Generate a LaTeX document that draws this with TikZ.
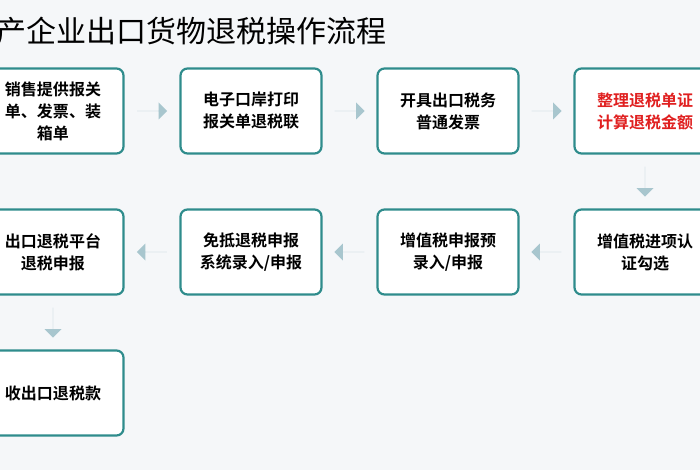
\documentclass[tikz,border=0pt]{standalone}
\usepackage{fontspec}
\setmainfont{Noto Sans CJK SC}
\newfontfamily\cjkb{Noto Sans CJK SC}[BoldFont=* Bold]
\usetikzlibrary{shapes.arrows,calc}
\definecolor{bg}{HTML}{F5F7F9}
\definecolor{bd}{HTML}{2F8C8C}
\definecolor{ar}{HTML}{A8C6CE}
\definecolor{rd}{HTML}{E02020}
\begin{document}
\begin{tikzpicture}[x=1pt,y=-1pt,
  box/.style={draw=bd,line width=2.2pt,rounded corners=7pt,fill=white,minimum width=141pt,minimum height=85pt,align=center,font=\cjkb\bfseries\fontsize{16}{22}\selectfont,text=black,inner sep=0pt},
  arr/.style={single arrow,fill=ar,draw=none,minimum height=30pt,minimum width=17pt,single arrow head extend=7pt,single arrow tip angle=90,inner sep=0pt}]
\useasboundingbox (0,0) rectangle (700,470);
\clip (0,0) rectangle (700,470);
\fill[bg] (0,0) rectangle (700,470);
\node[anchor=west,font=\fontsize{30}{32}\selectfont,inner sep=0pt] (title) at (-4,31) {产企业出口货物退税操作流程};
\node[box] (b1) at (53,111) {销售提供报关\\单、发票、装\\箱单};
\node[box] (b2) at (251,111) {电子口岸打印\\报关单退税联};
\node[box] (b3) at (448,111) {开具出口税务\\普通发票};
\node[box,text=rd] (b4) at (645,111) {整理退税单证\\计算退税金额};
\node[box] (b5) at (645,252) {增值税进项认\\证勾选};
\node[box] (b6) at (448,252) {增值税申报预\\录入/申报};
\node[box] (b7) at (251,252) {免抵退税申报\\系统录入/申报};
\node[box] (b8) at (53,252) {出口退税平台\\退税申报};
\node[box] (b9) at (53,393) {收出口退税款};
\node[arr] (a1) at ($(b1)!0.5!(b2)$) {};
\node[arr] (a2) at ($(b2)!0.5!(b3)$) {};
\node[arr] (a3) at ($(b3)!0.5!(b4)$) {};
\node[arr,shape border rotate=270] (a4) at ($(b4)!0.5!(b5)$) {};
\node[arr,shape border rotate=180] (a5) at ($(b5)!0.5!(b6)$) {};
\node[arr,shape border rotate=180] (a6) at ($(b6)!0.5!(b7)$) {};
\node[arr,shape border rotate=180] (a7) at ($(b7)!0.5!(b8)$) {};
\node[arr,shape border rotate=270] (a8) at ($(b8)!0.5!(b9)$) {};
\end{tikzpicture}
\end{document}
